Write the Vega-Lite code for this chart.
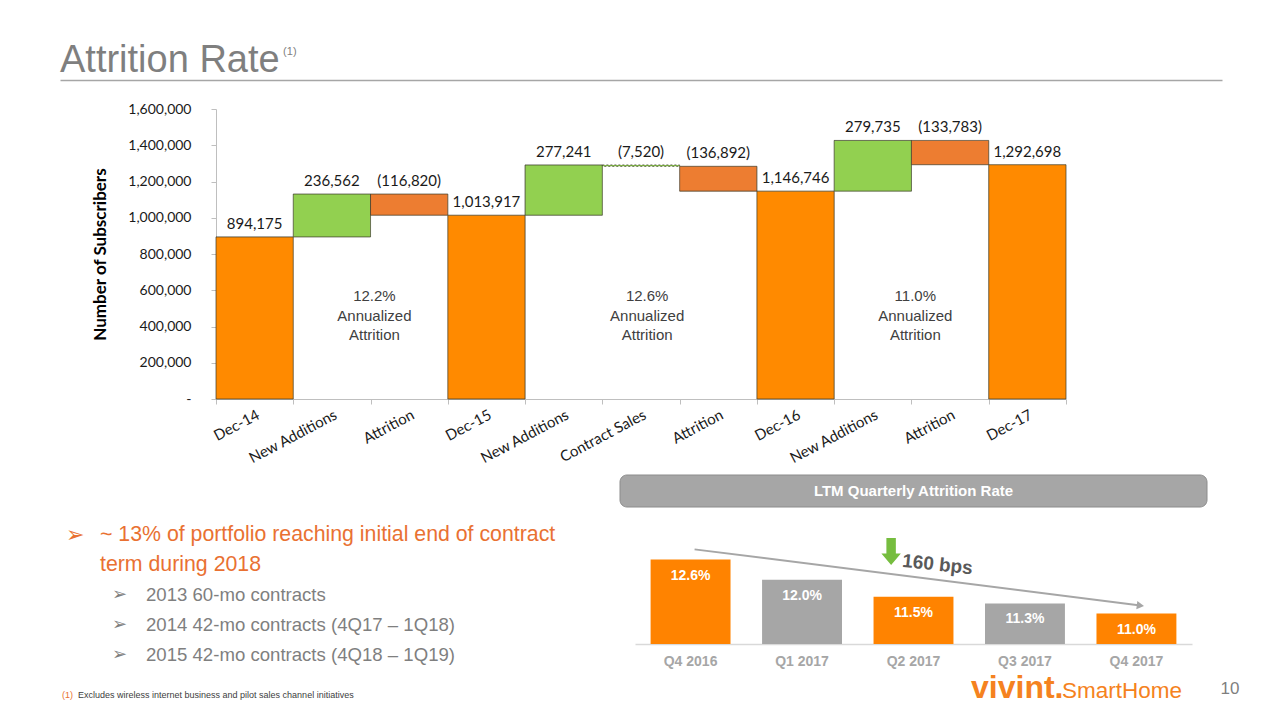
{
  "$schema": "https://vega.github.io/schema/vega-lite/v6.json",
  "width": 1280,
  "height": 720,
  "autosize": {"type": "none"},
  "padding": 0,
  "background": "#ffffff",
  "config": {
    "view": {"stroke": null},
    "font": "Liberation Sans",
    "axis": {"grid": false}
  },
  "layer": [
    {
      "data": {
        "values": [
          {"key": "Dec-14", "type": "total", "low": 0, "high": 894175, "label": "894,175"},
          {"key": "New Additions|1", "type": "add", "low": 894175, "high": 1130737, "label": "236,562"},
          {"key": "Attrition|1", "type": "attrition", "low": 1013917, "high": 1130737, "label": "(116,820)"},
          {"key": "Dec-15", "type": "total", "low": 0, "high": 1013917, "label": "1,013,917"},
          {"key": "New Additions|2", "type": "add", "low": 1013917, "high": 1291158, "label": "277,241"},
          {"key": "Contract Sales", "type": "contract", "low": 1283638, "high": 1291158, "label": "(7,520)"},
          {"key": "Attrition|2", "type": "attrition", "low": 1146746, "high": 1283638, "label": "(136,892)"},
          {"key": "Dec-16", "type": "total", "low": 0, "high": 1146746, "label": "1,146,746"},
          {"key": "New Additions|3", "type": "add", "low": 1146746, "high": 1426481, "label": "279,735"},
          {"key": "Attrition|3", "type": "attrition", "low": 1292698, "high": 1426481, "label": "(133,783)"},
          {"key": "Dec-17", "type": "total", "low": 0, "high": 1292698, "label": "1,292,698"}
        ]
      },
      "layer": [
        {
          "mark": {"type": "bar", "stroke": "#3F3F2F", "strokeWidth": 0.8},
          "encoding": {
            "x": {
              "field": "key", "type": "nominal", "title": null,
              "scale": {
                "type": "band",
                "domain": ["Dec-14", "New Additions|1", "Attrition|1", "Dec-15", "New Additions|2", "Contract Sales", "Attrition|2", "Dec-16", "New Additions|3", "Attrition|3", "Dec-17"],
                "range": [216, 1066], "paddingInner": 0, "paddingOuter": 0
              },
              "axis": {
                "orient": "bottom", "offset": -321, "labelAngle": -28,
                "labelExpr": "isValid(datum.value) ? split(datum.value, '|')[0] : ''",
                "labelFont": "Lato", "labelFontSize": 15, "labelColor": "#1a1a1a",
                "labelPadding": 3, "labelOverlap": false,
                "domainColor": "#BFBFBF", "tickColor": "#BFBFBF", "tickSize": 5, "tickBand": "extent"
              }
            },
            "y": {
              "field": "high", "type": "quantitative", "title": "Number of Subscribers",
              "scale": {"domain": [0, 1600000], "range": [399, 109], "nice": false, "zero": true},
              "axis": {
                "orient": "left", "offset": -216,
                "values": [0, 200000, 400000, 600000, 800000, 1000000, 1200000, 1400000, 1600000],
                "labelExpr": "datum.value == 0 ? '-' : format(datum.value, ',')",
                "labelFont": "Lato", "labelFontSize": 14, "labelColor": "#1a1a1a", "labelPadding": 20,
                "tickSize": 5, "tickColor": "#BFBFBF", "domainColor": "#BFBFBF",
                "titleFont": "Lato", "titleFontSize": 17, "titleFontWeight": "bold", "titleColor": "#000000", "titlePadding": 18
              }
            },
            "y2": {"field": "low"},
            "color": {
              "field": "type", "type": "nominal",
              "scale": {"domain": ["total", "add", "attrition", "contract"], "range": ["#FF8A00", "#92D050", "#ED7D31", "#92D050"]},
              "legend": null
            },
            "strokeDash": {
              "field": "type", "type": "nominal",
              "scale": {"domain": ["total", "add", "attrition", "contract"], "range": [[1, 0], [1, 0], [1, 0], [2, 2]]},
              "legend": null
            }
          }
        },
        {
          "mark": {"type": "text", "baseline": "bottom", "dy": -5, "font": "Lato", "fontSize": 15, "color": "#1a1a1a"},
          "encoding": {
            "x": {"field": "key", "type": "nominal"},
            "y": {"field": "high", "type": "quantitative", "title": "Number of Subscribers"},
            "text": {"field": "label"}
          }
        },
        {
          "data": {
            "values": [
              {"key": "Attrition|1", "note": ["12.2%", "Annualized", "Attrition"]},
              {"key": "Attrition|3", "note": ["11.0%", "Annualized", "Attrition"]}
            ]
          },
          "mark": {"type": "text", "font": "Liberation Sans", "fontSize": 15, "color": "#404040", "lineHeight": 19.5, "baseline": "middle", "align": "center"},
          "encoding": {
            "x": {"field": "key", "type": "nominal", "bandPosition": 0.05},
            "y": {"datum": 568000, "type": "quantitative"},
            "text": {"field": "note"}
          }
        },
        {
          "data": {
            "values": [
              {"key": "Contract Sales", "note": ["12.6%", "Annualized", "Attrition"]}
            ]
          },
          "mark": {"type": "text", "font": "Liberation Sans", "fontSize": 15, "color": "#404040", "lineHeight": 19.5, "baseline": "middle", "align": "center"},
          "encoding": {
            "x": {"field": "key", "type": "nominal", "bandPosition": 0.58},
            "y": {"datum": 568000, "type": "quantitative"},
            "text": {"field": "note"}
          }
        }
      ]
    },
    {
      "data": {
        "values": [
          {"quarter": "Q4 2016", "rate": 12.6, "label": "12.6%"},
          {"quarter": "Q1 2017", "rate": 12.0, "label": "12.0%"},
          {"quarter": "Q2 2017", "rate": 11.5, "label": "11.5%"},
          {"quarter": "Q3 2017", "rate": 11.3, "label": "11.3%"},
          {"quarter": "Q4 2017", "rate": 11.0, "label": "11.0%"}
        ]
      },
      "layer": [
        {
          "mark": {"type": "bar"},
          "encoding": {
            "x": {
              "field": "quarter", "type": "nominal", "title": null,
              "scale": {"type": "band", "domain": ["Q4 2016", "Q1 2017", "Q2 2017", "Q3 2017", "Q4 2017"], "range": [635, 1192], "paddingInner": 0.283, "paddingOuter": 0.14},
              "axis": {
                "orient": "bottom", "offset": -76, "labelAngle": 0,
                "labelFont": "Liberation Sans", "labelFontSize": 14, "labelFontWeight": "bold", "labelColor": "#A6A6A6",
                "labelPadding": 10, "ticks": false, "domainColor": "#D9D9D9", "domainWidth": 1.5
              }
            },
            "y": {
              "field": "rate", "type": "quantitative",
              "scale": {"domain": [10.1, 13], "range": [644, 546], "zero": false, "nice": false},
              "axis": null
            },
            "y2": {"datum": 10.1},
            "color": {
              "field": "quarter", "type": "nominal",
              "scale": {"domain": ["Q4 2016", "Q1 2017", "Q2 2017", "Q3 2017", "Q4 2017"], "range": ["#FF8300", "#A6A6A6", "#FF8300", "#A6A6A6", "#FF8300"]},
              "legend": null
            }
          }
        },
        {
          "mark": {"type": "text", "baseline": "middle", "dy": 16, "color": "#ffffff", "fontWeight": "bold", "fontSize": 14},
          "encoding": {
            "x": {"field": "quarter", "type": "nominal"},
            "y": {"field": "rate", "type": "quantitative", "axis": null},
            "text": {"field": "label"}
          }
        },
        {
          "data": {"values": [{"quarter": "Q4 2016", "trend": 12.9}, {"quarter": "Q4 2017", "trend": 11.24}]},
          "mark": {"type": "line", "color": "#A6A6A6", "strokeWidth": 2},
          "encoding": {
            "x": {"field": "quarter", "type": "nominal", "bandPosition": 0.55},
            "y": {"field": "trend", "type": "quantitative", "axis": null}
          }
        },
        {
          "data": {"values": [{"quarter": "Q4 2017", "trend": 11.24}]},
          "mark": {"type": "point", "shape": "triangle-right", "filled": true, "color": "#A6A6A6", "opacity": 1, "size": 70, "angle": 7},
          "encoding": {
            "x": {"field": "quarter", "type": "nominal", "bandPosition": 0.55},
            "y": {"field": "trend", "type": "quantitative", "axis": null}
          }
        },
        {
          "data": {"values": [{"quarter": "Q2 2017", "change": "160 bps"}]},
          "layer": [
            {
              "mark": {"type": "point", "shape": "M-0.35,-1L0.35,-1L0.35,0.15L0.72,0.15L0,1L-0.72,0.15L-0.35,0.15Z", "filled": true, "color": "#76BD3F", "opacity": 1, "size": 729},
              "encoding": {
                "x": {"field": "quarter", "type": "nominal", "bandPosition": 0.22},
                "y": {"datum": 12.84, "type": "quantitative", "axis": null}
              }
            },
            {
              "mark": {"type": "text", "align": "left", "baseline": "middle", "angle": 6, "fontSize": 19, "fontWeight": "bold", "color": "#595959"},
              "encoding": {
                "x": {"field": "quarter", "type": "nominal", "bandPosition": 0.36},
                "y": {"datum": 12.56, "type": "quantitative", "axis": null},
                "text": {"field": "change"}
              }
            }
          ]
        }
      ]
    },
    {
      "data": {"values": [{"panel": "LTM Quarterly Attrition Rate"}]},
      "layer": [
        {
          "mark": {"type": "rect", "cornerRadius": 7, "fill": "#A6A6A6", "stroke": "#8C8C8C", "strokeWidth": 1},
          "encoding": {
            "x": {"field": "panel", "type": "nominal", "scale": {"type": "band", "range": [620, 1207], "paddingInner": 0, "paddingOuter": 0}, "axis": null},
            "y": {"field": "panel", "type": "nominal", "scale": {"type": "band", "range": [475, 507], "paddingInner": 0, "paddingOuter": 0}, "axis": null}
          }
        },
        {
          "mark": {"type": "text", "align": "center", "baseline": "middle", "color": "#ffffff", "fontWeight": "bold", "fontSize": 15},
          "encoding": {
            "x": {"field": "panel", "type": "nominal", "axis": null},
            "y": {"field": "panel", "type": "nominal", "axis": null},
            "text": {"field": "panel"}
          }
        }
      ]
    },
    {
      "data": {"values": [{"slide": "Attrition Rate", "ref": "(1)"}]},
      "layer": [
        {
          "mark": {"type": "text", "align": "left", "baseline": "alphabetic", "fontSize": 38, "color": "#7F7F7F"},
          "encoding": {
            "x": {
              "field": "slide", "type": "nominal", "bandPosition": 0,
              "scale": {"type": "band", "range": [60, 1222], "paddingInner": 0, "paddingOuter": 0},
              "axis": {"orient": "bottom", "offset": -640, "labels": false, "ticks": false, "title": null, "domainColor": "#A6A6A6", "domainWidth": 1.5}
            },
            "y": {
              "field": "slide", "type": "nominal", "bandPosition": 0.8,
              "scale": {"type": "band", "range": [40, 80], "paddingInner": 0, "paddingOuter": 0},
              "axis": null
            },
            "text": {"field": "slide"}
          }
        },
        {
          "mark": {"type": "text", "align": "left", "baseline": "middle", "fontSize": 11, "color": "#7F7F7F"},
          "encoding": {
            "x": {"field": "slide", "type": "nominal", "bandPosition": 0.192},
            "y": {"field": "slide", "type": "nominal", "bandPosition": 0.3, "axis": null},
            "text": {"field": "ref"}
          }
        }
      ]
    },
    {
      "data": {
        "values": [
          {"line": 1, "level": 1, "marker": "➢", "text": "~ 13% of portfolio reaching initial end of contract"},
          {"line": 2, "level": 1, "marker": "", "text": "term during 2018"},
          {"line": 3, "level": 2, "marker": "➢", "text": "2013 60-mo contracts"},
          {"line": 4, "level": 2, "marker": "➢", "text": "2014 42-mo contracts (4Q17 – 1Q18)"},
          {"line": 5, "level": 2, "marker": "➢", "text": "2015 42-mo contracts (4Q18 – 1Q19)"}
        ]
      },
      "encoding": {
        "x": {"field": "level", "type": "ordinal", "scale": {"type": "point", "domain": [1, 2], "range": [100, 146], "padding": 0}, "axis": null},
        "y": {"field": "line", "type": "ordinal", "scale": {"type": "point", "domain": [1, 2, 3, 4, 5], "range": [535, 655], "padding": 0}, "axis": null},
        "color": {"field": "level", "type": "ordinal", "scale": {"domain": [1, 2], "range": ["#E97132", "#7F7F7F"]}, "legend": null}
      },
      "layer": [
        {
          "mark": {"type": "text", "align": "left", "baseline": "middle"},
          "encoding": {
            "text": {"field": "text"},
            "size": {"field": "level", "type": "quantitative", "scale": {"domain": [1, 2], "range": [21.3, 18.6]}, "legend": null}
          }
        },
        {
          "mark": {"type": "text", "align": "left", "baseline": "middle", "dx": -34, "font": "DejaVu Sans"},
          "encoding": {
            "text": {"field": "marker"},
            "size": {"field": "level", "type": "quantitative", "scale": {"domain": [1, 2], "range": [22, 18]}, "legend": null}
          }
        }
      ],
      "resolve": {"scale": {"size": "independent"}}
    },
    {
      "data": {"values": [{"ref": "(1)", "note": "Excludes wireless internet business and pilot sales channel initiatives"}]},
      "encoding": {
        "x": {"field": "ref", "type": "nominal", "bandPosition": 0, "scale": {"type": "band", "range": [62, 360], "paddingInner": 0, "paddingOuter": 0}, "axis": null},
        "y": {"field": "ref", "type": "nominal", "scale": {"type": "band", "range": [688, 702], "paddingInner": 0, "paddingOuter": 0}, "axis": null}
      },
      "layer": [
        {
          "mark": {"type": "text", "align": "left", "baseline": "middle", "fontSize": 9, "color": "#E97132"},
          "encoding": {"text": {"field": "ref"}}
        },
        {
          "mark": {"type": "text", "align": "left", "baseline": "middle", "fontSize": 9, "color": "#404040", "dx": 16},
          "encoding": {"text": {"field": "note"}}
        }
      ]
    },
    {
      "data": {"values": [{"brand": "vivint.", "product": "SmartHome"}]},
      "layer": [
        {
          "mark": {"type": "text", "align": "left", "baseline": "alphabetic", "fontSize": 32, "fontWeight": "bold", "color": "#F58220"},
          "encoding": {
            "x": {"field": "brand", "type": "nominal", "bandPosition": 0, "scale": {"type": "band", "range": [971, 1182], "paddingInner": 0, "paddingOuter": 0}, "axis": null},
            "y": {"field": "brand", "type": "nominal", "bandPosition": 0.85, "scale": {"type": "band", "range": [676, 702], "paddingInner": 0, "paddingOuter": 0}, "axis": null},
            "text": {"field": "brand"}
          }
        },
        {
          "mark": {"type": "text", "align": "right", "baseline": "alphabetic", "fontSize": 22.5, "color": "#F58220"},
          "encoding": {
            "x": {"field": "brand", "type": "nominal", "bandPosition": 1, "axis": null},
            "y": {"field": "brand", "type": "nominal", "bandPosition": 0.85, "axis": null},
            "text": {"field": "product"}
          }
        }
      ]
    },
    {
      "data": {"values": [{"page": "10"}]},
      "mark": {"type": "text", "align": "center", "baseline": "middle", "fontSize": 17, "color": "#7F7F7F"},
      "encoding": {
        "x": {"field": "page", "type": "nominal", "scale": {"type": "band", "range": [1215, 1245], "paddingInner": 0, "paddingOuter": 0}, "axis": null},
        "y": {"field": "page", "type": "nominal", "scale": {"type": "band", "range": [679, 699], "paddingInner": 0, "paddingOuter": 0}, "axis": null},
        "text": {"field": "page"}
      }
    }
  ],
  "resolve": {
    "scale": {"x": "independent", "y": "independent", "color": "independent", "size": "independent", "strokeDash": "independent"},
    "axis": {"x": "independent", "y": "independent"}
  }
}
